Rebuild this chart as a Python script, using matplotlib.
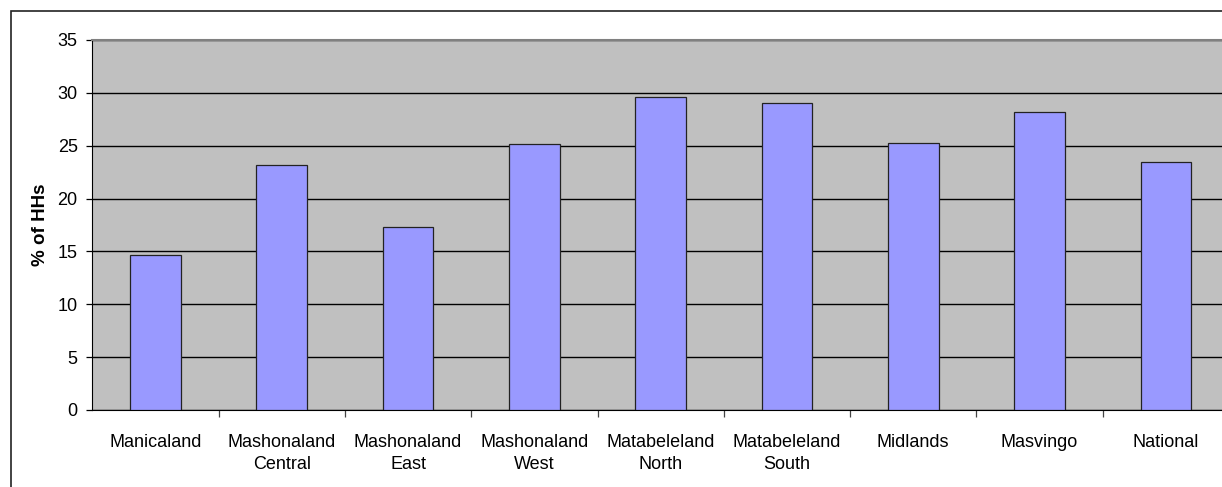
import matplotlib.pyplot as plt
from matplotlib.patches import Rectangle
import numpy as np

plt.rcParams['font.family'] = ['Liberation Sans', 'DejaVu Sans']

# share of households by province
regions = ['Manicaland', 'Mashonaland\nCentral', 'Mashonaland\nEast', 'Mashonaland\nWest',
           'Matabeleland\nNorth', 'Matabeleland\nSouth', 'Midlands', 'Masvingo', 'National']
pct_hh = [14.7, 23.2, 17.3, 25.2, 29.6, 29.0, 25.3, 28.2, 23.5]
yticks = [0, 5, 10, 15, 20, 25, 30, 35]

fig = plt.figure(figsize=(12.22, 4.87), dpi=100)
ax = fig.add_axes([92.3 / 1222, 77 / 487, (1229 - 92.3) / 1222, 370 / 487])

# chart border
fig.patches.append(Rectangle((11 / 1222, -0.2), 1.2, (476 / 487) + 0.2, transform=fig.transFigure,
                             fill=False, edgecolor='#222222', lw=1.2))

x = np.arange(len(regions))
ax.set_facecolor('#C0C0C0')
ax.bar(x, pct_hh, width=0.4, color='#9999FF', edgecolor='#222222', lw=0.9, zorder=3)

ax.set_xlim(-0.5, len(regions) - 0.5)
ax.set_ylim(0, 35)
ax.set_yticks(yticks)
ax.yaxis.grid(True, color='black', lw=1.0, zorder=1)
ax.set_axisbelow(True)
ax.tick_params(axis='y', direction='out', length=4.5, width=0.9, labelsize=13, pad=6, colors='black')

# region names at the centres, tick marks on the category borders
ax.set_xticks(x)
ax.set_xticklabels(regions, fontsize=13, linespacing=1.45, va='top')
ax.tick_params(axis='x', which='major', length=0, pad=17)
ax.set_xticks(np.arange(0.5, len(regions) - 0.5), minor=True)
ax.tick_params(axis='x', which='minor', direction='out', length=5, width=0.9, color='#444444')

ax.set_ylabel('% of HHs', fontsize=13.5, fontweight='bold', labelpad=6)

ax.spines['top'].set_color('#808080')
ax.spines['top'].set_linewidth(1.5)
ax.spines['left'].set_color('black')
ax.spines['bottom'].set_color('black')
ax.spines['right'].set_visible(False)

fig.savefig('out.png', dpi=100)
